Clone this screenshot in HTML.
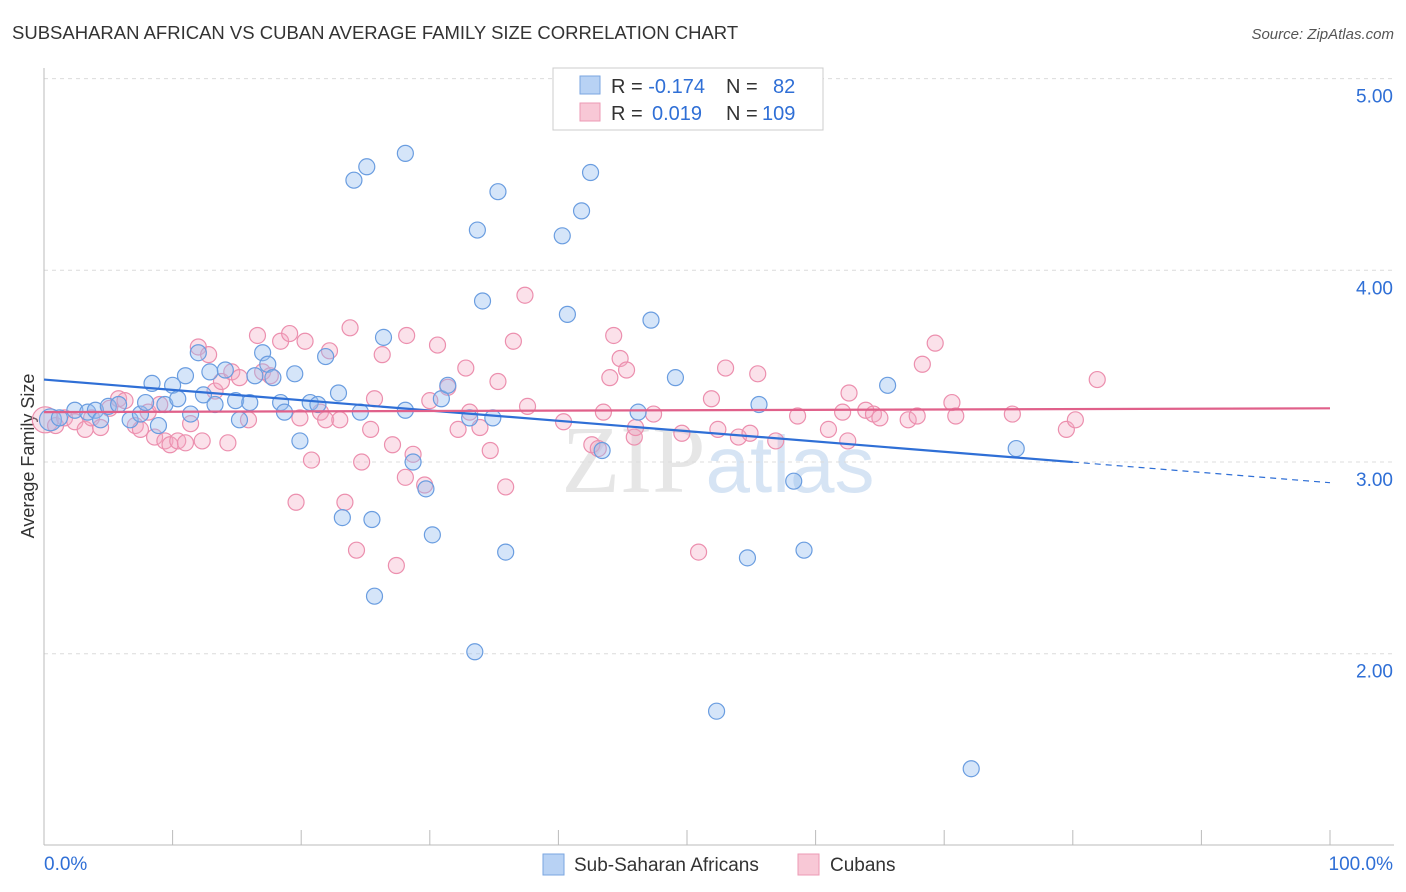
<!DOCTYPE html>
<html><head><meta charset="utf-8">
<style>
body{margin:0;background:#fff;font-family:"Liberation Sans",sans-serif;}
#wrap{position:relative;width:1406px;height:892px;overflow:hidden;}
</style></head>
<body>
<div id="wrap">
<svg id="chart" width="1406" height="892" xmlns="http://www.w3.org/2000/svg">
<text x="12" y="39" font-size="18.5" fill="#333">SUBSAHARAN AFRICAN VS CUBAN AVERAGE FAMILY SIZE CORRELATION CHART</text>
<text x="1394" y="39" font-size="15" fill="#555" font-style="italic" text-anchor="end">Source: ZipAtlas.com</text>
<text x="718" y="492" font-size="96" fill="#e6e6e6" text-anchor="middle" font-family="Liberation Serif">ZIP<tspan fill="#d6e4f4" font-family="Liberation Sans" font-size="80">atlas</tspan></text>
<text transform="translate(34,456) rotate(-90)" font-size="18" fill="#333" text-anchor="middle">Average Family Size</text>
<g id="grid"></g>
<g id="marks"></g>
<g id="lines"></g>
<g>
<rect x="553" y="68" width="270" height="62" fill="#fff" stroke="#ccc"/>
<rect x="580" y="76" width="20" height="18" fill="#b8d2f4" stroke="#7aa6e0"/>
<rect x="580" y="103" width="20" height="18" fill="#f8c8d6" stroke="#ec9ab4"/>
<text x="611" y="93" font-size="20" fill="#333">R = <tspan fill="#2f6fd6">-0.174</tspan><tspan x="726">N = </tspan><tspan x="773" fill="#2f6fd6">82</tspan></text>
<text x="611" y="120" font-size="20" fill="#333">R = <tspan fill="#2f6fd6" x="652">0.019</tspan><tspan x="726">N = </tspan><tspan x="762" fill="#2f6fd6">109</tspan></text>
</g>
<g>
<rect x="543" y="854" width="21" height="21" fill="#b8d2f4" stroke="#7aa6e0"/>
<text x="574" y="871" font-size="19" fill="#333">Sub-Saharan Africans</text>
<rect x="798" y="854" width="21" height="21" fill="#f8c8d6" stroke="#ec9ab4"/>
<text x="830" y="871" font-size="19" fill="#333">Cubans</text>
</g>
<text x="44" y="870" font-size="19" fill="#2f6fd6">0.0%</text>
<text x="1393" y="870" font-size="19" fill="#2f6fd6" text-anchor="end">100.0%</text>
</svg>
</div>
<script>
const yTicks=[2,3,4,5];
const yTickLabels=["2.00","3.00","4.00","5.00"];
const xTicks=[0,10,20,30,40,50,60,70,80,90,100];
const blueX=[0.5,1.2,2.4,3.4,4.0,4.4,5.0,5.8,6.7,7.5,7.9,8.4,8.9,9.4,10.0,10.4,11.0,11.4,12.0,12.4,12.9,13.3,14.1,14.9,15.2,16.0,16.4,17.0,17.4,17.8,18.4,18.7,19.5,19.9,20.7,21.3,21.9,22.9,23.2,24.1,24.6,25.1,25.5,25.7,26.4,28.1,28.1,28.7,29.7,30.2,30.9,31.4,33.1,33.5,33.7,34.1,34.9,35.3,35.9,40.3,40.7,41.8,42.5,43.4,46.2,47.2,49.1,52.3,54.7,55.6,58.3,59.1,65.6,72.1,75.6];
const blueY=[3.22,3.23,3.27,3.26,3.27,3.22,3.29,3.30,3.22,3.25,3.31,3.41,3.19,3.30,3.40,3.33,3.45,3.25,3.57,3.35,3.47,3.30,3.48,3.32,3.22,3.31,3.45,3.57,3.51,3.44,3.31,3.26,3.46,3.11,3.31,3.30,3.55,3.36,2.71,4.47,3.26,4.54,2.70,2.30,3.65,4.61,3.27,3.00,2.86,2.62,3.33,3.40,3.23,2.01,4.21,3.84,3.23,4.41,2.53,4.18,3.77,4.31,4.51,3.06,3.26,3.74,3.44,1.70,2.50,3.30,2.90,2.54,3.40,1.40,3.07];
const pinkX=[0.1,0.9,1.6,2.4,3.2,3.7,4.4,5.1,5.8,6.3,7.1,7.5,8.1,8.6,9.0,9.4,9.8,10.4,11.0,11.4,12.0,12.3,12.8,13.3,13.8,14.3,14.6,15.2,15.9,16.6,17.0,17.6,18.4,19.1,19.6,19.9,20.3,20.8,21.5,21.9,22.2,23.0,23.4,23.8,24.3,24.7,25.4,25.7,26.3,27.1,27.4,28.1,28.2,28.7,29.6,30.0,30.6,31.4,32.2,32.8,33.1,33.9,34.7,35.3,35.9,36.5,37.6,37.4,40.4,42.6,43.1,43.5,44.0,44.3,44.8,45.3,45.9,46.0,47.4,49.6,50.9,51.9,52.4,53.0,54.0,54.9,55.5,56.9,58.6,61.0,62.1,62.6,62.5,63.9,64.5,65.0,67.2,67.9,68.3,69.3,70.6,70.9,75.3,79.5,80.2,81.9];
const pinkY=[3.22,3.19,3.23,3.21,3.17,3.23,3.18,3.28,3.33,3.32,3.19,3.17,3.26,3.13,3.30,3.11,3.09,3.11,3.10,3.20,3.60,3.11,3.56,3.37,3.42,3.10,3.47,3.44,3.22,3.66,3.47,3.45,3.63,3.67,2.79,3.23,3.63,3.01,3.26,3.22,3.58,3.22,2.79,3.70,2.54,3.00,3.17,3.33,3.56,3.09,2.46,2.92,3.66,3.04,2.88,3.32,3.61,3.39,3.17,3.49,3.26,3.18,3.06,3.42,2.87,3.63,3.29,3.87,3.21,3.09,3.07,3.26,3.44,3.66,3.54,3.48,3.13,3.18,3.25,3.15,2.53,3.33,3.17,3.49,3.13,3.15,3.46,3.11,3.24,3.17,3.26,3.36,3.11,3.27,3.25,3.23,3.22,3.24,3.51,3.62,3.31,3.24,3.25,3.17,3.22,3.43];
const blueTrend=[3.43,-0.00538];
const pinkTrend=[3.26,0.0002];
const blueSolidEnd=80;

const NS="http://www.w3.org/2000/svg";
const X=v=>44+v*12.86;
const Y=v=>462-(v-3)*191.7;
function mk(tag,attrs,parent){const e=document.createElementNS(NS,tag);for(const k in attrs)e.setAttribute(k,attrs[k]);parent.appendChild(e);return e;}
const grid=document.getElementById('grid'),marks=document.getElementById('marks'),lines=document.getElementById('lines');
yTicks.forEach((t,i)=>{
  const l=mk('line',{x1:44,x2:1394,y1:Y(t),y2:Y(t),stroke:'#dcdcdc','stroke-dasharray':'4,4'},grid);
  
  
  const tx=mk('text',{x:1393,y:Y(t)+24,'font-size':19,fill:'#2f6fd6','text-anchor':'end'},grid);
  tx.textContent=yTickLabels[i];
  
  
});
const ax=mk('line',{x1:44,x2:1394,y1:845,y2:845,stroke:'#bbb'},grid);


const ay=mk('line',{x1:44,x2:44,y1:68,y2:845,stroke:'#bbb'},grid);


xTicks.forEach(t=>{
  const l=mk('line',{x1:X(t),x2:X(t),y1:830,y2:845,stroke:'#bbb'},grid);
  
  
});
pinkX.forEach((x,i)=>{
  const c=mk('circle',{cx:X(x),cy:Y(pinkY[i]),r:i==0?13:8,fill:'rgba(244,170,194,0.35)',stroke:'#ec8fae','stroke-width':1.2},marks);
  
  
});
blueX.forEach((x,i)=>{
  const c=mk('circle',{cx:X(x),cy:Y(blueY[i]),r:i==0?11:8,fill:'rgba(150,190,240,0.4)',stroke:'#6a9de0','stroke-width':1.2},marks);
  
  
});
const bt=v=>blueTrend[0]+blueTrend[1]*v, pt=v=>pinkTrend[0]+pinkTrend[1]*v;
const b1=mk('line',{x1:X(0),y1:Y(bt(0)),x2:X(blueSolidEnd),y2:Y(bt(blueSolidEnd)),stroke:'#2f6fd6','stroke-width':2.2},lines);


const b2=mk('line',{x1:X(blueSolidEnd),y1:Y(bt(blueSolidEnd)),x2:X(100),y2:Y(bt(100)),stroke:'#2f6fd6','stroke-width':1.2,'stroke-dasharray':'6,5'},lines);


const p1=mk('line',{x1:X(0),y1:Y(pt(0)),x2:X(100),y2:Y(pt(100)),stroke:'#e0608a','stroke-width':2.2},lines);


</script>
</body></html>
